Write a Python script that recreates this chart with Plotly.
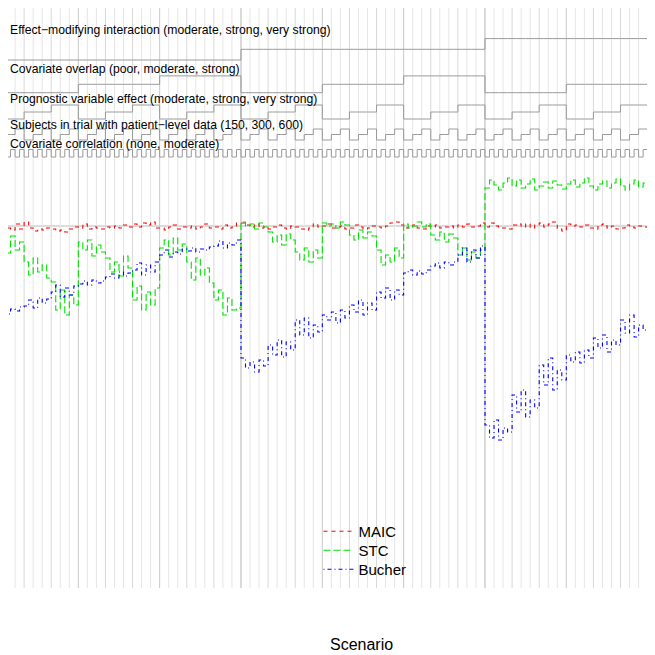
import plotly.graph_objects as go

# Nested scenario factors (slowest first)
effect_levels = ["moderate", "strong", "very strong"]
overlap_levels = ["poor", "moderate", "strong"]
prognostic_levels = ["moderate", "strong", "very strong"]
subject_levels = [150, 300, 600]
correlation_levels = ["none", "moderate"]

factor_labels = [
    "Effect\u2212modifying interaction (moderate, strong, very strong)",
    "Covariate overlap (poor, moderate, strong)",
    "Prognostic variable effect (moderate, strong, very strong)",
    "Subjects in trial with patient\u2212level data (150, 300, 600)",
    "Covariate correlation (none, moderate)",
]

# Bias per scenario (scenarios 1-146 shown)
maic = [-0.03, -0.05, -0.02, -0.04, 0.02, -0.03,
        0.04, -0.02, -0.05, -0.03, -0.04, -0.02,
        -0.03, -0.05, -0.04, -0.06, -0.03, -0.01,
        -0.02, 0.02, -0.03, -0.01, -0.02, -0.03,
        -0.01, -0.02, 0.00, -0.02, 0.01, -0.01,
        0.02, -0.01, 0.03, 0.01, 0.04, -0.02,
        -0.02, -0.04, -0.01, 0.01, -0.03, -0.01,
        -0.02, 0.00, -0.03, -0.01, 0.02, -0.02,
        -0.01, -0.03, 0.01, -0.02, -0.01, 0.03,
        0.03, 0.01, -0.01, 0.02, -0.02, -0.01,
        -0.03, -0.01, 0.01, -0.02, -0.03, 0.00,
        -0.01, -0.03, -0.04, -0.02, 0.02, -0.01,
        0.00, 0.02, -0.02, -0.01, 0.00, -0.03,
        -0.02, 0.01, -0.01, -0.03, -0.02, 0.00,
        -0.01, -0.02, 0.00, 0.03, 0.04, 0.01,
        -0.02, -0.01, 0.01, -0.02, -0.03, 0.00,
        -0.01, 0.01, -0.02, -0.01, 0.00, -0.02,
        0.01, -0.01, 0.02, -0.01, 0.00, 0.03,
        -0.01, 0.03, 0.00, -0.02, -0.02, -0.03,
        0.01, 0.02, -0.01, 0.02, -0.02, 0.01,
        0.03, -0.01, 0.02, 0.04, -0.03, -0.05,
        0.02, 0.00, 0.01, -0.01, 0.01, -0.02,
        -0.03, 0.01, 0.02, -0.02, 0.00, -0.03,
        -0.02, 0.01, -0.01, -0.02, 0.00, -0.01,
        0.01, -0.02]

stc = [-0.22, -0.14, -0.27, -0.10, -0.24, -0.16,
       -0.36, -0.49, -0.32, -0.46, -0.39, -0.52,
       -0.56, -0.84, -0.64, -0.89, -0.69, -0.79,
       -0.16, -0.24, -0.14, -0.30, -0.19, -0.26,
       -0.32, -0.46, -0.36, -0.50, -0.30, -0.42,
       -0.74, -0.60, -0.84, -0.66, -0.79, -0.62,
       -0.22, -0.14, -0.29, -0.12, -0.24, -0.18,
       -0.36, -0.54, -0.32, -0.49, -0.42, -0.57,
       -0.74, -0.64, -0.89, -0.72, -0.84, -0.82,
       0.04, 0.00, 0.02, -0.03, 0.03, -0.01,
       -0.06, -0.16, -0.09, -0.19, -0.08, -0.14,
       -0.26, -0.34, -0.22, -0.36, -0.24, -0.32,
       0.03, 0.00, 0.02, -0.02, 0.04, 0.01,
       -0.09, -0.14, -0.04, -0.12, -0.06, -0.10,
       -0.24, -0.39, -0.29, -0.36, -0.22, -0.32,
       0.02, -0.02, 0.00, 0.04, -0.01, 0.02,
       -0.09, -0.14, -0.06, -0.16, -0.08, -0.12,
       -0.29, -0.22, -0.34, -0.26, -0.32, -0.24,
       0.38, 0.46, 0.41, 0.36, 0.43, 0.48,
       0.40, 0.46, 0.38, 0.42, 0.47, 0.36,
       0.40, 0.44, 0.38, 0.45, 0.41, 0.37,
       0.42, 0.46, 0.39, 0.43, 0.48, 0.40,
       0.36, 0.42, 0.45, 0.38, 0.43, 0.47,
       0.40, 0.36, 0.42, 0.46, 0.39, 0.43,
       0.37, 0.41]

bucher = [-0.86, -0.82, -0.88, -0.83, -0.85, -0.81,
          -0.80, -0.74, -0.82, -0.72, -0.77, -0.73,
          -0.66, -0.59, -0.71, -0.62, -0.69, -0.60,
          -0.58, -0.55, -0.59, -0.54, -0.57, -0.55,
          -0.51, -0.48, -0.52, -0.46, -0.50, -0.47,
          -0.44, -0.37, -0.49, -0.39, -0.46, -0.36,
          -0.29, -0.24, -0.31, -0.26, -0.28, -0.23,
          -0.25, -0.22, -0.26, -0.23, -0.24, -0.21,
          -0.20, -0.15, -0.22, -0.17, -0.19, -0.14,
          -1.32, -1.42, -1.36, -1.46, -1.34, -1.40,
          -1.19, -1.29, -1.14, -1.31, -1.16, -1.24,
          -0.94, -1.09, -0.92, -1.12, -0.99, -1.06,
          -0.89, -0.94, -0.86, -0.97, -0.84, -0.92,
          -0.79, -0.86, -0.74, -0.89, -0.77, -0.84,
          -0.66, -0.72, -0.62, -0.74, -0.64, -0.69,
          -0.47, -0.44, -0.49, -0.45, -0.48, -0.44,
          -0.40, -0.37, -0.42, -0.36, -0.39, -0.36,
          -0.29, -0.22, -0.36, -0.24, -0.32, -0.20,
          -1.99, -2.12, -1.94, -2.14, -2.02, -2.06,
          -1.69, -1.86, -1.64, -1.91, -1.74, -1.82,
          -1.39, -1.59, -1.32, -1.64, -1.44, -1.54,
          -1.29, -1.36, -1.26, -1.37, -1.24, -1.32,
          -1.12, -1.22, -1.09, -1.26, -1.14, -1.19,
          -0.94, -1.07, -0.89, -1.11, -0.99, -1.04,
          -0.71, -0.64]

# full factorial design, one row of level indices per scenario
design = []
for e in range(len(effect_levels)):
    for o in range(len(overlap_levels)):
        for p in range(len(prognostic_levels)):
            for s in range(len(subject_levels)):
                for c in range(len(correlation_levels)):
                    design.append((e, o, p, s, c))
n_scen = len(design)

font = "Liberation Sans, Arial, sans-serif"
fig = go.Figure()

# vertical guide lines between scenario groups
for b in range(2, n_scen, 2):
    if b % 54 == 0:
        col = "#b4b4b4"
    elif b % 18 == 0:
        col = "#c8c8c8"
    elif b % 6 == 0:
        col = "#d8d8d8"
    else:
        col = "#e6e6e6"
    fig.add_shape(type="line", x0=b, x1=b, y0=-3.62, y1=2.4, layer="below",
                  line=dict(color=col, width=1))

# reference line
fig.add_shape(type="line", xref="paper", x0=0, x1=1, y0=0, y1=0, layer="below",
              line=dict(color="#b8b8b8", width=1))

# nested loop step lines for the design (base, step, label y)
bands = [(1.66, 0.107, 1.96), (1.333, 0.084, 1.57), (1.07, 0.07, 1.27),
         (0.86, 0.055, 1.01), (0.69, 0.075, 0.82)]
xs = list(range(n_scen)) + [n_scen]
for f, (base, step, ly) in enumerate(bands):
    ys = [base + row[f] * step for row in design]
    fig.add_trace(go.Scatter(x=xs, y=ys + [ys[-1]], mode="lines", line_shape="hv",
                             line=dict(color="#9a9a9a", width=1),
                             showlegend=False, hoverinfo="skip"))
    fig.add_annotation(x=0.0, xref="paper", y=ly, yref="y", text=factor_labels[f],
                       showarrow=False, xanchor="left", yanchor="middle",
                       font=dict(family=font, size=12.2, color="black"))

series = [("MAIC", maic, "#ff0000", "4px,4px", "legend", 0.2260),
          ("STC", stc, "#00e000", "7px,3px", "legend2", 0.1969),
          ("Bucher", bucher, "#0000ff", "1px,3px,4px,3px", "legend3", 0.1679)]
legends = {}
for name, vals, col, dash, leg, ly in series:
    x = list(range(len(vals) + 1))
    fig.add_trace(go.Scatter(x=x, y=vals + [vals[-1]], mode="lines", name=name,
                             legend=leg, line_shape="hv",
                             line=dict(color=col, width=1.1, dash=dash)))
    legends[leg] = dict(x=0.474, y=ly, xanchor="left", yanchor="top",
                        bgcolor="rgba(0,0,0,0)", font=dict(family=font, size=15))

fig.add_annotation(x=0.539, xref="paper", y=0.0122, yref="paper", text="Scenario",
                   showarrow=False, xanchor="center", yanchor="bottom",
                   font=dict(family=font, size=16, color="black"))

fig.update_layout(
    width=655, height=655,
    margin=dict(l=0, r=0, t=0, b=0),
    paper_bgcolor="white", plot_bgcolor="white",
    font=dict(family=font, color="black"),
    xaxis=dict(range=[2.434, 147.4], visible=False, showgrid=False, zeroline=False),
    yaxis=dict(range=[-4.37, 2.18], visible=False, showgrid=False, zeroline=False),
    **legends,
)

fig.write_html("out.html")
